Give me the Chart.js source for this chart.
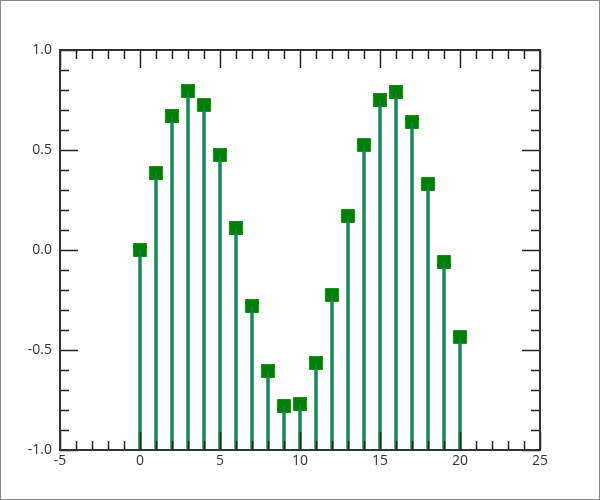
<!DOCTYPE html>
<html>
<head>
<meta charset="utf-8">
<script src="https://cdn.jsdelivr.net/npm/chart.js@4/dist/chart.umd.min.js"></script>
<style>
  html, body { margin: 0; padding: 0; background: #fff; }
  #box { width: 600px; height: 500px; }
</style>
</head>
<body>
<div id="box"><canvas id="stem"></canvas></div>
<script>
// dados
var xs = [0, 1, 2, 3, 4, 5, 6, 7, 8, 9, 10, 11, 12, 13, 14, 15, 16, 17, 18, 19, 20];
var ys = [0.0, 0.385, 0.67, 0.795, 0.725, 0.475, 0.11, -0.28, -0.605, -0.78, -0.77,
          -0.565, -0.225, 0.17, 0.525, 0.75, 0.79, 0.64, 0.33, -0.06, -0.435];
var base = -1;
var xTicks = [-5, 0, 5, 10, 15, 20, 25];
var yTicks = [-1.0, -0.5, 0.0, 0.5, 1.0];

// hastes: pares (x, base) -> (x, y) separados por null
var hastes = [];
xs.forEach(function (x, i) {
    hastes.push({ x: x, y: base });
    hastes.push({ x: x, y: ys[i] });
    hastes.push({ x: x, y: null });
});
var pontos = xs.map(function (x, i) { return { x: x, y: ys[i] }; });

// moldura + ticks para dentro nos quatro lados
var molduraPlugin = {
    id: 'moldura',
    afterDraw: function (chart) {
        var c = chart.ctx, a = chart.chartArea;
        var sx = chart.scales.x, sy = chart.scales.y;
        c.save();
        c.strokeStyle = '#222';
        c.lineWidth = 1.5;
        var v, px, len;
        for (v = -5; v <= 25; v++) {
            px = Math.round(sx.getPixelForValue(v)) + 0.5;
            len = (v % 5 === 0) ? 18 : 9;
            c.beginPath();
            c.moveTo(px, a.bottom); c.lineTo(px, a.bottom - len);
            c.moveTo(px, a.top); c.lineTo(px, a.top + len);
            c.stroke();
        }
        for (v = -10; v <= 10; v++) {
            px = Math.round(sy.getPixelForValue(v / 10)) + 0.5;
            len = (v % 5 === 0) ? 18 : 9;
            c.beginPath();
            c.moveTo(a.left, px); c.lineTo(a.left + len, px);
            c.moveTo(a.right, px); c.lineTo(a.right - len, px);
            c.stroke();
        }
        c.lineWidth = 2;
        c.strokeStyle = '#333';
        c.strokeRect(a.left, a.top, a.right - a.left, a.bottom - a.top);
        // borda da figura
        c.lineWidth = 1;
        c.strokeStyle = '#888';
        c.strokeRect(0.5, 0.5, chart.width - 1, chart.height - 1);
        c.restore();
    }
};

var ctx = document.getElementById('stem').getContext('2d');
var chart = new Chart(ctx, {
    type: 'scatter',
    data: {
        datasets: [{
            type: 'line',
            data: hastes,
            order: 0,
            borderColor: '#1f77b4',
            borderWidth: 1,
            pointRadius: 0,
            spanGaps: false
        }, {
            data: pontos,
            order: 1,
            pointStyle: 'rect',
            pointRadius: 9.2,
            backgroundColor: '#008000',
            borderColor: '#1a901a',
            borderWidth: 1
        }, {
            type: 'line',
            data: hastes,
            order: 2,
            borderColor: '#149228',
            borderWidth: 3.5,
            pointRadius: 0,
            spanGaps: false
        }]
    },
    plugins: [molduraPlugin],
    options: {
        responsive: true,
        maintainAspectRatio: false,
        animation: false,
        layout: { padding: { left: 0, top: 50, right: 60, bottom: 0 } },
        plugins: { legend: { display: false }, tooltip: { enabled: false } },
        scales: {
            x: {
                type: 'linear',
                min: -5,
                max: 25,
                afterFit: function (s) { s.height = 50; },
                afterBuildTicks: function (s) { s.ticks = xTicks.map(function (v) { return { value: v }; }); },
                grid: { display: false, drawTicks: false },
                border: { display: false },
                ticks: { font: { family: 'Open Sans', size: 14 }, color: '#333', padding: 3 }
            },
            y: {
                min: -1,
                max: 1,
                afterFit: function (s) { s.width = 60; },
                afterBuildTicks: function (s) { s.ticks = yTicks.map(function (v) { return { value: v }; }); },
                grid: { display: false, drawTicks: false },
                border: { display: false },
                ticks: {
                    font: { family: 'Open Sans', size: 14 }, color: '#333', padding: 8,
                    callback: function (v) { return v.toFixed(1); }
                }
            }
        }
    }
});
</script>
</body>
</html>
